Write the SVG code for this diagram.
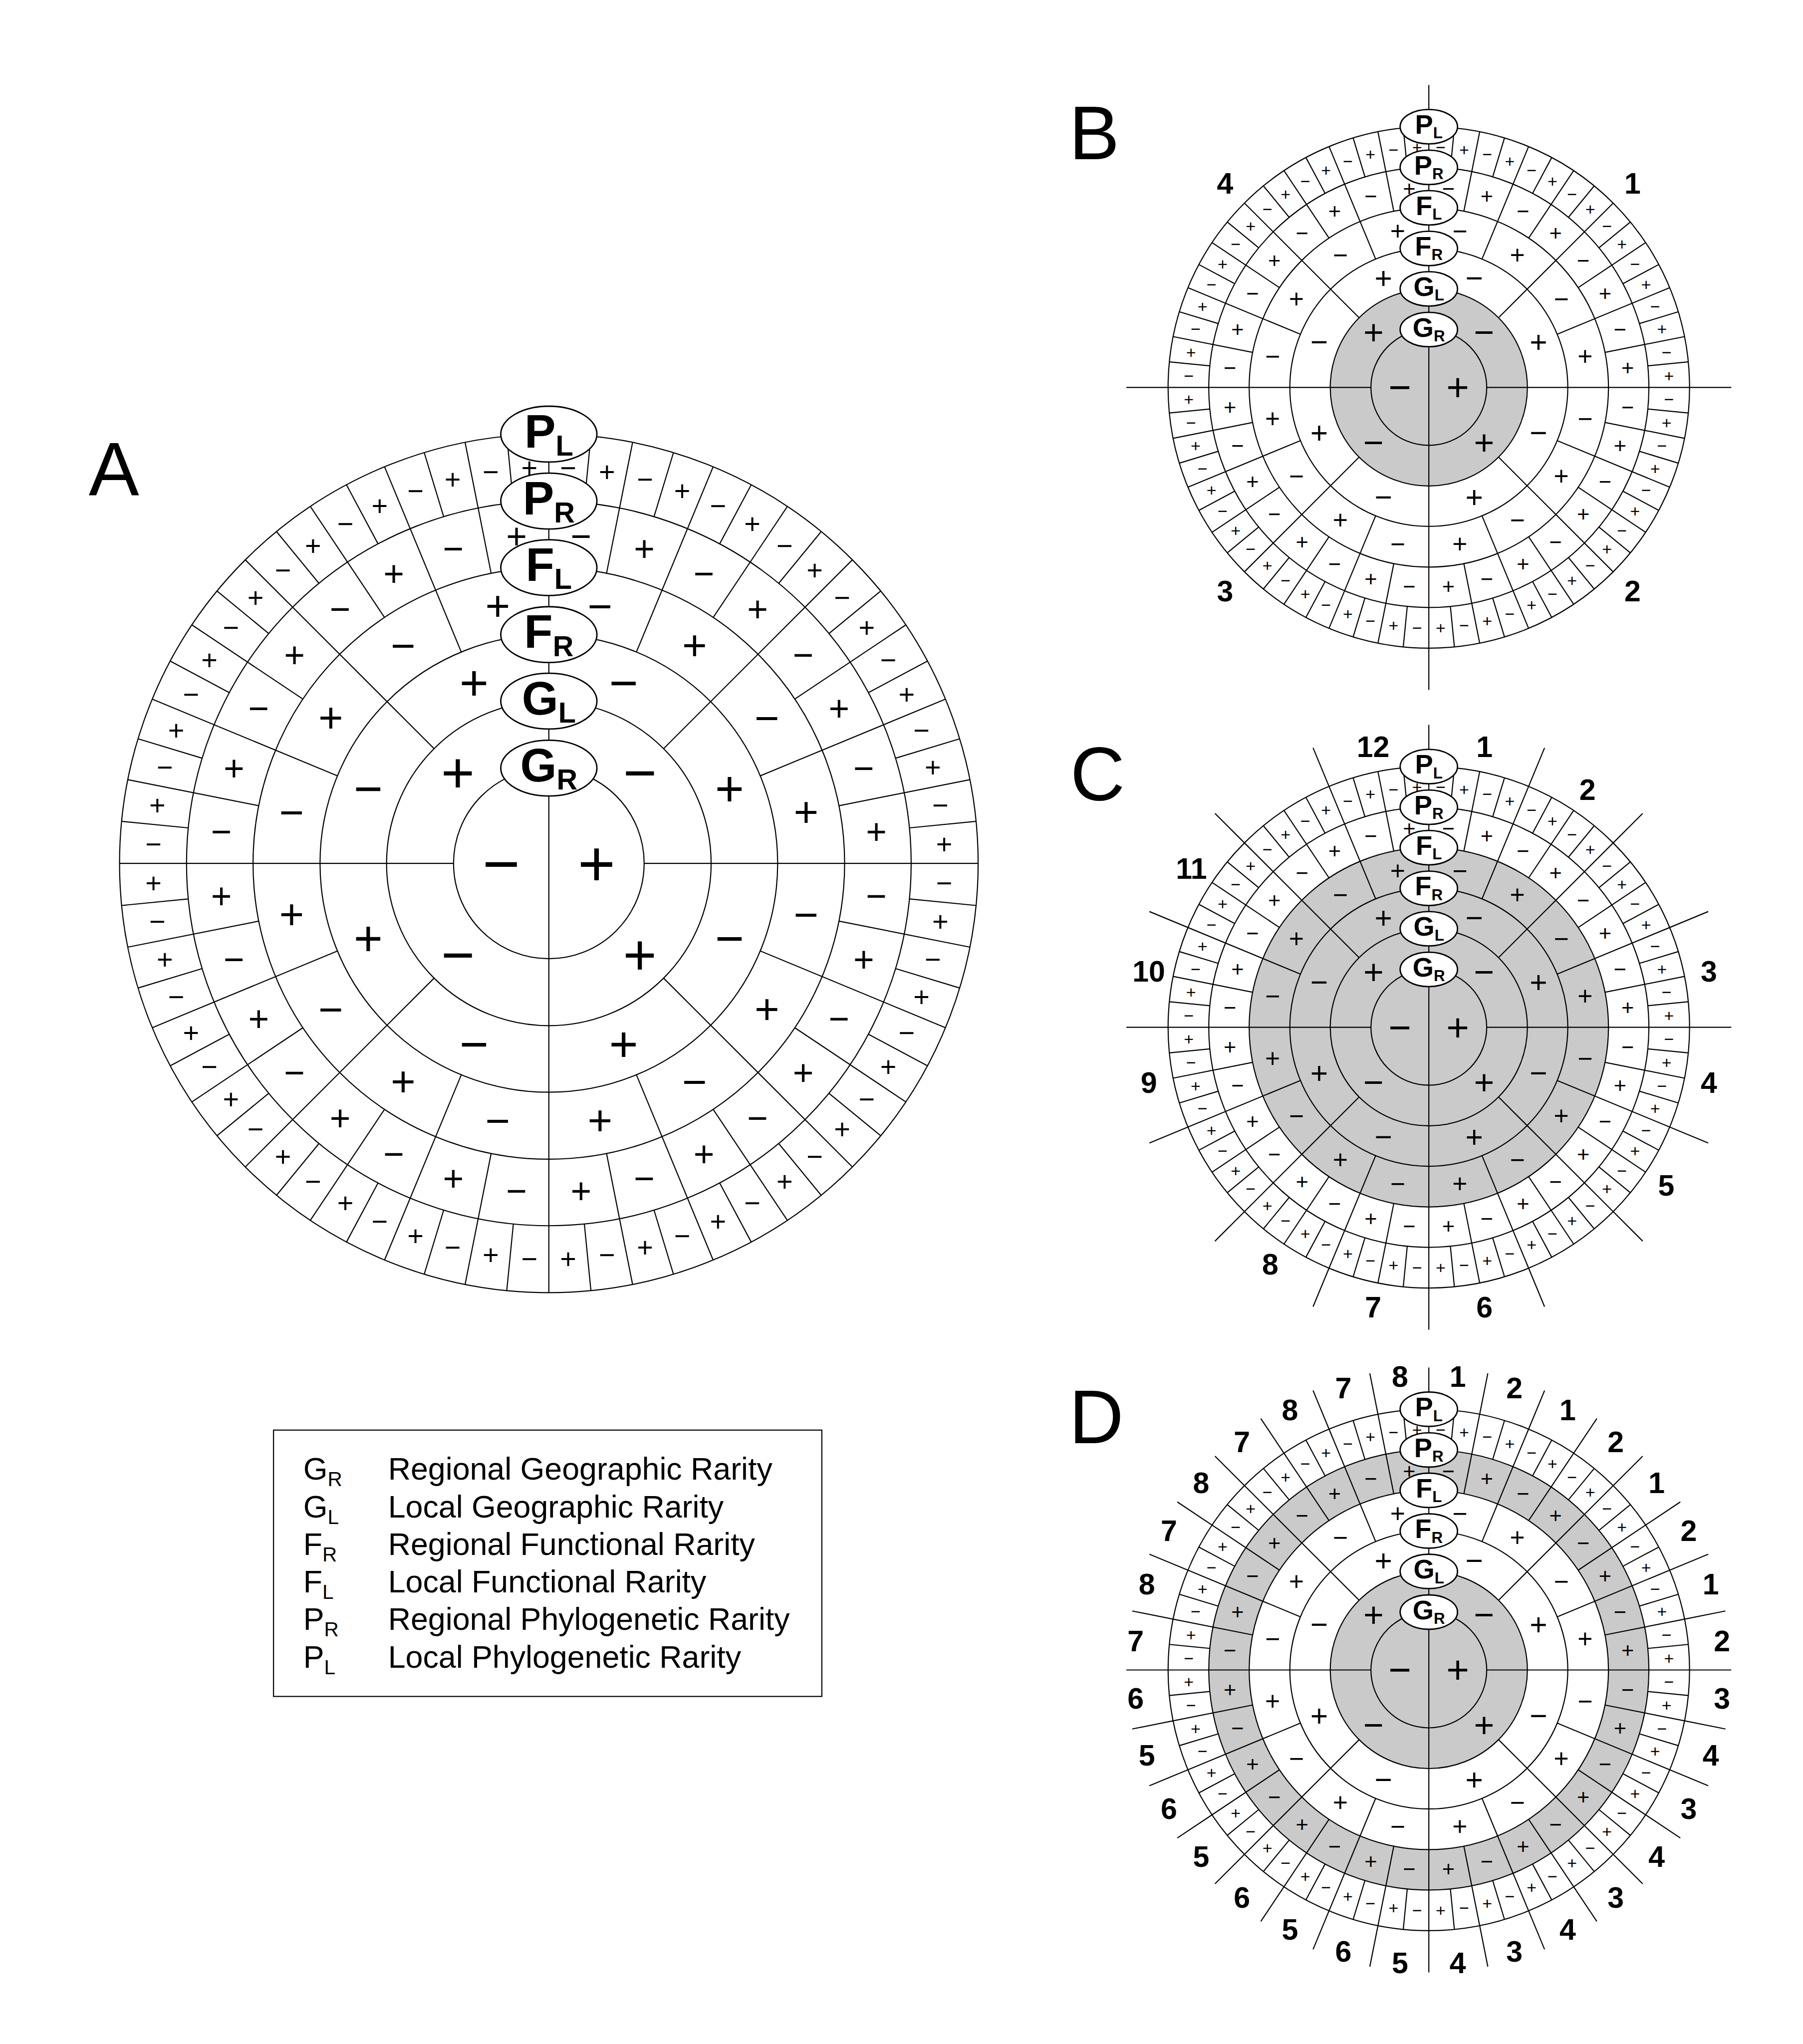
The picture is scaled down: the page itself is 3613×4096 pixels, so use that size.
<svg xmlns="http://www.w3.org/2000/svg" width="3613" height="4096" viewBox="0 0 3613 4096">
<style>
text{font-family:"Liberation Sans",Arial,Helvetica,sans-serif;fill:#000}
.sg text{text-anchor:middle;dominant-baseline:central}
.t1{font-size:150px}.t2{font-size:134px}.t3{font-size:116px}.t4{font-size:99px}.t5{font-size:83px}.t6{font-size:65px}
.nm text{font-weight:bold;font-size:113px;text-anchor:middle;dominant-baseline:central}
.la text{font-weight:bold;font-size:109px;text-anchor:middle}
.la tspan{font-size:67px}
.lb text{font-weight:bold;font-size:104px;text-anchor:middle}
.lb tspan{font-size:60px}
.lg text{font-size:24px}
.lg tspan{font-size:15.5px}
.pl{font-size:58px}
</style>
<defs>
<g id="q">
<line y1="-378" y2="-1000" transform="rotate(45)"/>
<line y1="-533" y2="-1000" transform="rotate(22.5)"/>
<line y1="-533" y2="-1000" transform="rotate(67.5)"/>
<line y1="-689" y2="-1000" transform="rotate(11.25)"/>
<line y1="-689" y2="-1000" transform="rotate(33.75)"/>
<line y1="-689" y2="-1000" transform="rotate(56.25)"/>
<line y1="-689" y2="-1000" transform="rotate(78.75)"/>
<line y1="-844" y2="-1000" transform="rotate(5.625)"/>
<line y1="-844" y2="-1000" transform="rotate(16.875)"/>
<line y1="-844" y2="-1000" transform="rotate(28.125)"/>
<line y1="-844" y2="-1000" transform="rotate(39.375)"/>
<line y1="-844" y2="-1000" transform="rotate(50.625)"/>
<line y1="-844" y2="-1000" transform="rotate(61.875)"/>
<line y1="-844" y2="-1000" transform="rotate(73.125)"/>
<line y1="-844" y2="-1000" transform="rotate(84.375)"/>
</g>
<g id="sp">
<line y1="-1000" y2="1000"/><line x1="222" x2="1000"/><line x1="-222" x2="-1000"/>
<use href="#q"/><use href="#q" transform="rotate(90)"/><use href="#q" transform="rotate(180)"/><use href="#q" transform="rotate(270)"/>
</g>
<g id="rg" fill="none"><circle r="222"/><circle r="378"/><circle r="533"/><circle r="689"/><circle r="844"/><circle r="1000"/></g>
<g id="e4"><line y1="-1000" y2="-1160"/><line y1="1000" y2="1160"/><line x1="1000" x2="1160"/><line x1="-1000" x2="-1160"/></g>
<g id="e16q"><line y1="-1000" y2="-1160" transform="rotate(22.5)"/><line y1="-1000" y2="-1160" transform="rotate(45)"/><line y1="-1000" y2="-1160" transform="rotate(67.5)"/></g>
<g id="e16"><use href="#e16q"/><use href="#e16q" transform="rotate(90)"/><use href="#e16q" transform="rotate(180)"/><use href="#e16q" transform="rotate(270)"/></g>
<g id="e32q"><line y1="-1000" y2="-1160" transform="rotate(11.25)"/><line y1="-1000" y2="-1160" transform="rotate(33.75)"/><line y1="-1000" y2="-1160" transform="rotate(56.25)"/><line y1="-1000" y2="-1160" transform="rotate(78.75)"/></g>
<g id="e32"><use href="#e32q"/><use href="#e32q" transform="rotate(90)"/><use href="#e32q" transform="rotate(180)"/><use href="#e32q" transform="rotate(270)"/></g>
</defs>
<rect width="3613" height="4096" fill="#fff"/>
<g transform="scale(2.6124)">

<text class="pl" x="68" y="380">A</text>
<text class="pl" x="820" y="122">B</text>
<text class="pl" x="821" y="614">C</text>
<text class="pl" x="820" y="1107">D</text>

<g id="A" transform="translate(421,662.3) scale(0.3293)">
<g stroke="#000" stroke-width="2.56"><use href="#sp"/><use href="#rg"/></g>
<g class="sg">
<g class="t1"><text x="111">+</text><text x="-111">−</text></g>
<g class="t2"><text x="212.1" y="-212.1">−</text><text x="212.1" y="212.1">+</text><text x="-212.1" y="212.1">−</text><text x="-212.1" y="-212.1">+</text></g>
<g class="t3"><text x="174.3" y="-420.8">−</text><text x="420.8" y="-174.3">+</text><text x="420.8" y="174.3">−</text><text x="174.3" y="420.8">+</text><text x="-174.3" y="420.8">−</text><text x="-420.8" y="174.3">+</text><text x="-420.8" y="-174.3">−</text><text x="-174.3" y="-420.8">+</text></g>
<g class="t4"><text x="119.2" y="-599.3">−</text><text x="339.5" y="-508">+</text><text x="508" y="-339.5">−</text><text x="599.3" y="-119.2">+</text><text x="599.3" y="119.2">−</text><text x="508" y="339.5">+</text><text x="339.5" y="508">−</text><text x="119.2" y="599.3">+</text><text x="-119.2" y="599.3">−</text><text x="-339.5" y="508">+</text><text x="-508" y="339.5">−</text><text x="-599.3" y="119.2">+</text><text x="-599.3" y="-119.2">−</text><text x="-508" y="-339.5">+</text><text x="-339.5" y="-508">−</text><text x="-119.2" y="-599.3">+</text></g>
<g class="t5"><text x="75.1" y="-762.8">−</text><text x="222.5" y="-733.5">+</text><text x="361.3" y="-676">−</text><text x="486.3" y="-592.5">+</text><text x="592.5" y="-486.3">−</text><text x="676" y="-361.3">+</text><text x="733.5" y="-222.5">−</text><text x="762.8" y="-75.1">+</text><text x="762.8" y="75.1">−</text><text x="733.5" y="222.5">+</text><text x="676" y="361.3">−</text><text x="592.5" y="486.3">+</text><text x="486.3" y="592.5">−</text><text x="361.3" y="676">+</text><text x="222.5" y="733.5">−</text><text x="75.1" y="762.8">+</text><text x="-75.1" y="762.8">−</text><text x="-222.5" y="733.5">+</text><text x="-361.3" y="676">−</text><text x="-486.3" y="592.5">+</text><text x="-592.5" y="486.3">−</text><text x="-676" y="361.3">+</text><text x="-733.5" y="222.5">−</text><text x="-762.8" y="75.1">+</text><text x="-762.8" y="-75.1">−</text><text x="-733.5" y="-222.5">+</text><text x="-676" y="-361.3">−</text><text x="-592.5" y="-486.3">+</text><text x="-486.3" y="-592.5">−</text><text x="-361.3" y="-676">+</text><text x="-222.5" y="-733.5">−</text><text x="-75.1" y="-762.8">+</text></g>
<g class="t6"><text x="45.2" y="-920.9">−</text><text x="135.3" y="-912">+</text><text x="224" y="-894.4">−</text><text x="310.6" y="-868.1">+</text><text x="394.2" y="-833.5">−</text><text x="474" y="-790.8">+</text><text x="549.2" y="-740.6">−</text><text x="619.2" y="-683.2">+</text><text x="683.2" y="-619.2">−</text><text x="740.6" y="-549.2">+</text><text x="790.8" y="-474">−</text><text x="833.5" y="-394.2">+</text><text x="868.1" y="-310.6">−</text><text x="894.4" y="-224">+</text><text x="912" y="-135.3">−</text><text x="920.9" y="-45.2">+</text><text x="920.9" y="45.2">−</text><text x="912" y="135.3">+</text><text x="894.4" y="224">−</text><text x="868.1" y="310.6">+</text><text x="833.5" y="394.2">−</text><text x="790.8" y="474">+</text><text x="740.6" y="549.2">−</text><text x="683.2" y="619.2">+</text><text x="619.2" y="683.2">−</text><text x="549.2" y="740.6">+</text><text x="474" y="790.8">−</text><text x="394.2" y="833.5">+</text><text x="310.6" y="868.1">−</text><text x="224" y="894.4">+</text><text x="135.3" y="912">−</text><text x="45.2" y="920.9">+</text><text x="-45.2" y="920.9">−</text><text x="-135.3" y="912">+</text><text x="-224" y="894.4">−</text><text x="-310.6" y="868.1">+</text><text x="-394.2" y="833.5">−</text><text x="-474" y="790.8">+</text><text x="-549.2" y="740.6">−</text><text x="-619.2" y="683.2">+</text><text x="-683.2" y="619.2">−</text><text x="-740.6" y="549.2">+</text><text x="-790.8" y="474">−</text><text x="-833.5" y="394.2">+</text><text x="-868.1" y="310.6">−</text><text x="-894.4" y="224">+</text><text x="-912" y="135.3">−</text><text x="-920.9" y="45.2">+</text><text x="-920.9" y="-45.2">−</text><text x="-912" y="-135.3">+</text><text x="-894.4" y="-224">−</text><text x="-868.1" y="-310.6">+</text><text x="-833.5" y="-394.2">−</text><text x="-790.8" y="-474">+</text><text x="-740.6" y="-549.2">−</text><text x="-683.2" y="-619.2">+</text><text x="-619.2" y="-683.2">−</text><text x="-549.2" y="-740.6">+</text><text x="-474" y="-790.8">−</text><text x="-394.2" y="-833.5">+</text><text x="-310.6" y="-868.1">−</text><text x="-224" y="-894.4">+</text><text x="-135.3" y="-912">−</text><text x="-45.2" y="-920.9">+</text></g>
</g>
<g class="la">
<g fill="#fff" stroke="#000" stroke-width="3.25"><ellipse cy="-1000" rx="112" ry="65"/><ellipse cy="-844" rx="112" ry="65"/><ellipse cy="-689" rx="112" ry="65"/><ellipse cy="-533" rx="112" ry="65"/><ellipse cy="-378" rx="112" ry="65"/><ellipse cy="-222" rx="112" ry="65"/></g>
<text y="-969">P<tspan dy="19">L</tspan></text>
<text y="-813">P<tspan dy="19">R</tspan></text>
<text y="-658">F<tspan dy="19">L</tspan></text>
<text y="-502">F<tspan dy="19">R</tspan></text>
<text y="-347">G<tspan dy="19">L</tspan></text>
<text y="-191">G<tspan dy="19">R</tspan></text>
</g>
</g>

<g id="B" transform="translate(1096,297.2) scale(0.2)">
<circle r="378" fill="#cacaca"/>
<g stroke="#000" stroke-width="4.21"><use href="#sp"/><use href="#rg"/><use href="#e4"/></g>
<g class="sg">
<g class="t1"><text x="111">+</text><text x="-111">−</text></g>
<g class="t2"><text x="212.1" y="-212.1">−</text><text x="212.1" y="212.1">+</text><text x="-212.1" y="212.1">−</text><text x="-212.1" y="-212.1">+</text></g>
<g class="t3"><text x="174.3" y="-420.8">−</text><text x="420.8" y="-174.3">+</text><text x="420.8" y="174.3">−</text><text x="174.3" y="420.8">+</text><text x="-174.3" y="420.8">−</text><text x="-420.8" y="174.3">+</text><text x="-420.8" y="-174.3">−</text><text x="-174.3" y="-420.8">+</text></g>
<g class="t4"><text x="119.2" y="-599.3">−</text><text x="339.5" y="-508">+</text><text x="508" y="-339.5">−</text><text x="599.3" y="-119.2">+</text><text x="599.3" y="119.2">−</text><text x="508" y="339.5">+</text><text x="339.5" y="508">−</text><text x="119.2" y="599.3">+</text><text x="-119.2" y="599.3">−</text><text x="-339.5" y="508">+</text><text x="-508" y="339.5">−</text><text x="-599.3" y="119.2">+</text><text x="-599.3" y="-119.2">−</text><text x="-508" y="-339.5">+</text><text x="-339.5" y="-508">−</text><text x="-119.2" y="-599.3">+</text></g>
<g class="t5"><text x="75.1" y="-762.8">−</text><text x="222.5" y="-733.5">+</text><text x="361.3" y="-676">−</text><text x="486.3" y="-592.5">+</text><text x="592.5" y="-486.3">−</text><text x="676" y="-361.3">+</text><text x="733.5" y="-222.5">−</text><text x="762.8" y="-75.1">+</text><text x="762.8" y="75.1">−</text><text x="733.5" y="222.5">+</text><text x="676" y="361.3">−</text><text x="592.5" y="486.3">+</text><text x="486.3" y="592.5">−</text><text x="361.3" y="676">+</text><text x="222.5" y="733.5">−</text><text x="75.1" y="762.8">+</text><text x="-75.1" y="762.8">−</text><text x="-222.5" y="733.5">+</text><text x="-361.3" y="676">−</text><text x="-486.3" y="592.5">+</text><text x="-592.5" y="486.3">−</text><text x="-676" y="361.3">+</text><text x="-733.5" y="222.5">−</text><text x="-762.8" y="75.1">+</text><text x="-762.8" y="-75.1">−</text><text x="-733.5" y="-222.5">+</text><text x="-676" y="-361.3">−</text><text x="-592.5" y="-486.3">+</text><text x="-486.3" y="-592.5">−</text><text x="-361.3" y="-676">+</text><text x="-222.5" y="-733.5">−</text><text x="-75.1" y="-762.8">+</text></g>
<g class="t6"><text x="45.2" y="-920.9">−</text><text x="135.3" y="-912">+</text><text x="224" y="-894.4">−</text><text x="310.6" y="-868.1">+</text><text x="394.2" y="-833.5">−</text><text x="474" y="-790.8">+</text><text x="549.2" y="-740.6">−</text><text x="619.2" y="-683.2">+</text><text x="683.2" y="-619.2">−</text><text x="740.6" y="-549.2">+</text><text x="790.8" y="-474">−</text><text x="833.5" y="-394.2">+</text><text x="868.1" y="-310.6">−</text><text x="894.4" y="-224">+</text><text x="912" y="-135.3">−</text><text x="920.9" y="-45.2">+</text><text x="920.9" y="45.2">−</text><text x="912" y="135.3">+</text><text x="894.4" y="224">−</text><text x="868.1" y="310.6">+</text><text x="833.5" y="394.2">−</text><text x="790.8" y="474">+</text><text x="740.6" y="549.2">−</text><text x="683.2" y="619.2">+</text><text x="619.2" y="683.2">−</text><text x="549.2" y="740.6">+</text><text x="474" y="790.8">−</text><text x="394.2" y="833.5">+</text><text x="310.6" y="868.1">−</text><text x="224" y="894.4">+</text><text x="135.3" y="912">−</text><text x="45.2" y="920.9">+</text><text x="-45.2" y="920.9">−</text><text x="-135.3" y="912">+</text><text x="-224" y="894.4">−</text><text x="-310.6" y="868.1">+</text><text x="-394.2" y="833.5">−</text><text x="-474" y="790.8">+</text><text x="-549.2" y="740.6">−</text><text x="-619.2" y="683.2">+</text><text x="-683.2" y="619.2">−</text><text x="-740.6" y="549.2">+</text><text x="-790.8" y="474">−</text><text x="-833.5" y="394.2">+</text><text x="-868.1" y="310.6">−</text><text x="-894.4" y="224">+</text><text x="-912" y="135.3">−</text><text x="-920.9" y="45.2">+</text><text x="-920.9" y="-45.2">−</text><text x="-912" y="-135.3">+</text><text x="-894.4" y="-224">−</text><text x="-868.1" y="-310.6">+</text><text x="-833.5" y="-394.2">−</text><text x="-790.8" y="-474">+</text><text x="-740.6" y="-549.2">−</text><text x="-683.2" y="-619.2">+</text><text x="-619.2" y="-683.2">−</text><text x="-549.2" y="-740.6">+</text><text x="-474" y="-790.8">−</text><text x="-394.2" y="-833.5">+</text><text x="-310.6" y="-868.1">−</text><text x="-224" y="-894.4">+</text><text x="-135.3" y="-912">−</text><text x="-45.2" y="-920.9">+</text></g>
</g>
<g class="lb">
<g fill="#fff" stroke="#000" stroke-width="5.36"><ellipse cy="-1000" rx="110" ry="66"/><ellipse cy="-844" rx="110" ry="66"/><ellipse cy="-689" rx="110" ry="66"/><ellipse cy="-533" rx="110" ry="66"/><ellipse cy="-378" rx="110" ry="66"/><ellipse cy="-222" rx="110" ry="66"/></g>
<text y="-973">P<tspan dy="18">L</tspan></text>
<text y="-817">P<tspan dy="18">R</tspan></text>
<text y="-662">F<tspan dy="18">L</tspan></text>
<text y="-506">F<tspan dy="18">R</tspan></text>
<text y="-351">G<tspan dy="18">L</tspan></text>
<text y="-195">G<tspan dy="18">R</tspan></text>
</g>
<g class="nm"><text x="781.4" y="-781.4">1</text><text x="781.4" y="781.4">2</text><text x="-781.4" y="781.4">3</text><text x="-781.4" y="-781.4">4</text></g>
</g>

<g id="C" transform="translate(1096,788) scale(0.2)">
<circle r="689" fill="#cacaca"/>
<g stroke="#000" stroke-width="4.21"><use href="#sp"/><use href="#rg"/><use href="#e4"/><use href="#e16"/></g>
<g class="sg">
<g class="t1"><text x="111">+</text><text x="-111">−</text></g>
<g class="t2"><text x="212.1" y="-212.1">−</text><text x="212.1" y="212.1">+</text><text x="-212.1" y="212.1">−</text><text x="-212.1" y="-212.1">+</text></g>
<g class="t3"><text x="174.3" y="-420.8">−</text><text x="420.8" y="-174.3">+</text><text x="420.8" y="174.3">−</text><text x="174.3" y="420.8">+</text><text x="-174.3" y="420.8">−</text><text x="-420.8" y="174.3">+</text><text x="-420.8" y="-174.3">−</text><text x="-174.3" y="-420.8">+</text></g>
<g class="t4"><text x="119.2" y="-599.3">−</text><text x="339.5" y="-508">+</text><text x="508" y="-339.5">−</text><text x="599.3" y="-119.2">+</text><text x="599.3" y="119.2">−</text><text x="508" y="339.5">+</text><text x="339.5" y="508">−</text><text x="119.2" y="599.3">+</text><text x="-119.2" y="599.3">−</text><text x="-339.5" y="508">+</text><text x="-508" y="339.5">−</text><text x="-599.3" y="119.2">+</text><text x="-599.3" y="-119.2">−</text><text x="-508" y="-339.5">+</text><text x="-339.5" y="-508">−</text><text x="-119.2" y="-599.3">+</text></g>
<g class="t5"><text x="75.1" y="-762.8">−</text><text x="222.5" y="-733.5">+</text><text x="361.3" y="-676">−</text><text x="486.3" y="-592.5">+</text><text x="592.5" y="-486.3">−</text><text x="676" y="-361.3">+</text><text x="733.5" y="-222.5">−</text><text x="762.8" y="-75.1">+</text><text x="762.8" y="75.1">−</text><text x="733.5" y="222.5">+</text><text x="676" y="361.3">−</text><text x="592.5" y="486.3">+</text><text x="486.3" y="592.5">−</text><text x="361.3" y="676">+</text><text x="222.5" y="733.5">−</text><text x="75.1" y="762.8">+</text><text x="-75.1" y="762.8">−</text><text x="-222.5" y="733.5">+</text><text x="-361.3" y="676">−</text><text x="-486.3" y="592.5">+</text><text x="-592.5" y="486.3">−</text><text x="-676" y="361.3">+</text><text x="-733.5" y="222.5">−</text><text x="-762.8" y="75.1">+</text><text x="-762.8" y="-75.1">−</text><text x="-733.5" y="-222.5">+</text><text x="-676" y="-361.3">−</text><text x="-592.5" y="-486.3">+</text><text x="-486.3" y="-592.5">−</text><text x="-361.3" y="-676">+</text><text x="-222.5" y="-733.5">−</text><text x="-75.1" y="-762.8">+</text></g>
<g class="t6"><text x="45.2" y="-920.9">−</text><text x="135.3" y="-912">+</text><text x="224" y="-894.4">−</text><text x="310.6" y="-868.1">+</text><text x="394.2" y="-833.5">−</text><text x="474" y="-790.8">+</text><text x="549.2" y="-740.6">−</text><text x="619.2" y="-683.2">+</text><text x="683.2" y="-619.2">−</text><text x="740.6" y="-549.2">+</text><text x="790.8" y="-474">−</text><text x="833.5" y="-394.2">+</text><text x="868.1" y="-310.6">−</text><text x="894.4" y="-224">+</text><text x="912" y="-135.3">−</text><text x="920.9" y="-45.2">+</text><text x="920.9" y="45.2">−</text><text x="912" y="135.3">+</text><text x="894.4" y="224">−</text><text x="868.1" y="310.6">+</text><text x="833.5" y="394.2">−</text><text x="790.8" y="474">+</text><text x="740.6" y="549.2">−</text><text x="683.2" y="619.2">+</text><text x="619.2" y="683.2">−</text><text x="549.2" y="740.6">+</text><text x="474" y="790.8">−</text><text x="394.2" y="833.5">+</text><text x="310.6" y="868.1">−</text><text x="224" y="894.4">+</text><text x="135.3" y="912">−</text><text x="45.2" y="920.9">+</text><text x="-45.2" y="920.9">−</text><text x="-135.3" y="912">+</text><text x="-224" y="894.4">−</text><text x="-310.6" y="868.1">+</text><text x="-394.2" y="833.5">−</text><text x="-474" y="790.8">+</text><text x="-549.2" y="740.6">−</text><text x="-619.2" y="683.2">+</text><text x="-683.2" y="619.2">−</text><text x="-740.6" y="549.2">+</text><text x="-790.8" y="474">−</text><text x="-833.5" y="394.2">+</text><text x="-868.1" y="310.6">−</text><text x="-894.4" y="224">+</text><text x="-912" y="135.3">−</text><text x="-920.9" y="45.2">+</text><text x="-920.9" y="-45.2">−</text><text x="-912" y="-135.3">+</text><text x="-894.4" y="-224">−</text><text x="-868.1" y="-310.6">+</text><text x="-833.5" y="-394.2">−</text><text x="-790.8" y="-474">+</text><text x="-740.6" y="-549.2">−</text><text x="-683.2" y="-619.2">+</text><text x="-619.2" y="-683.2">−</text><text x="-549.2" y="-740.6">+</text><text x="-474" y="-790.8">−</text><text x="-394.2" y="-833.5">+</text><text x="-310.6" y="-868.1">−</text><text x="-224" y="-894.4">+</text><text x="-135.3" y="-912">−</text><text x="-45.2" y="-920.9">+</text></g>
</g>
<g class="lb">
<g fill="#fff" stroke="#000" stroke-width="5.36"><ellipse cy="-1000" rx="110" ry="66"/><ellipse cy="-844" rx="110" ry="66"/><ellipse cy="-689" rx="110" ry="66"/><ellipse cy="-533" rx="110" ry="66"/><ellipse cy="-378" rx="110" ry="66"/><ellipse cy="-222" rx="110" ry="66"/></g>
<text y="-973">P<tspan dy="18">L</tspan></text>
<text y="-817">P<tspan dy="18">R</tspan></text>
<text y="-662">F<tspan dy="18">L</tspan></text>
<text y="-506">F<tspan dy="18">R</tspan></text>
<text y="-351">G<tspan dy="18">L</tspan></text>
<text y="-195">G<tspan dy="18">R</tspan></text>
</g>
<g class="nm"><text x="213.6" y="-1074">1</text><text x="608.4" y="-910.5">2</text><text x="1074" y="-213.6">3</text><text x="1074" y="213.6">4</text><text x="910.5" y="608.4">5</text><text x="213.6" y="1074">6</text><text x="-213.6" y="1074">7</text><text x="-608.4" y="910.5">8</text><text x="-1074" y="213.6">9</text><text x="-1074" y="-213.6">10</text><text x="-910.5" y="-608.4">11</text><text x="-213.6" y="-1074">12</text></g>
</g>

<g id="D" transform="translate(1096,1281) scale(0.2)">
<circle r="844" fill="#cacaca"/><circle r="689" fill="#fff"/><circle r="378" fill="#cacaca"/>
<g stroke="#000" stroke-width="4.21"><use href="#sp"/><use href="#rg"/><use href="#e4"/><use href="#e16"/><use href="#e32"/></g>
<g class="sg">
<g class="t1"><text x="111">+</text><text x="-111">−</text></g>
<g class="t2"><text x="212.1" y="-212.1">−</text><text x="212.1" y="212.1">+</text><text x="-212.1" y="212.1">−</text><text x="-212.1" y="-212.1">+</text></g>
<g class="t3"><text x="174.3" y="-420.8">−</text><text x="420.8" y="-174.3">+</text><text x="420.8" y="174.3">−</text><text x="174.3" y="420.8">+</text><text x="-174.3" y="420.8">−</text><text x="-420.8" y="174.3">+</text><text x="-420.8" y="-174.3">−</text><text x="-174.3" y="-420.8">+</text></g>
<g class="t4"><text x="119.2" y="-599.3">−</text><text x="339.5" y="-508">+</text><text x="508" y="-339.5">−</text><text x="599.3" y="-119.2">+</text><text x="599.3" y="119.2">−</text><text x="508" y="339.5">+</text><text x="339.5" y="508">−</text><text x="119.2" y="599.3">+</text><text x="-119.2" y="599.3">−</text><text x="-339.5" y="508">+</text><text x="-508" y="339.5">−</text><text x="-599.3" y="119.2">+</text><text x="-599.3" y="-119.2">−</text><text x="-508" y="-339.5">+</text><text x="-339.5" y="-508">−</text><text x="-119.2" y="-599.3">+</text></g>
<g class="t5"><text x="75.1" y="-762.8">−</text><text x="222.5" y="-733.5">+</text><text x="361.3" y="-676">−</text><text x="486.3" y="-592.5">+</text><text x="592.5" y="-486.3">−</text><text x="676" y="-361.3">+</text><text x="733.5" y="-222.5">−</text><text x="762.8" y="-75.1">+</text><text x="762.8" y="75.1">−</text><text x="733.5" y="222.5">+</text><text x="676" y="361.3">−</text><text x="592.5" y="486.3">+</text><text x="486.3" y="592.5">−</text><text x="361.3" y="676">+</text><text x="222.5" y="733.5">−</text><text x="75.1" y="762.8">+</text><text x="-75.1" y="762.8">−</text><text x="-222.5" y="733.5">+</text><text x="-361.3" y="676">−</text><text x="-486.3" y="592.5">+</text><text x="-592.5" y="486.3">−</text><text x="-676" y="361.3">+</text><text x="-733.5" y="222.5">−</text><text x="-762.8" y="75.1">+</text><text x="-762.8" y="-75.1">−</text><text x="-733.5" y="-222.5">+</text><text x="-676" y="-361.3">−</text><text x="-592.5" y="-486.3">+</text><text x="-486.3" y="-592.5">−</text><text x="-361.3" y="-676">+</text><text x="-222.5" y="-733.5">−</text><text x="-75.1" y="-762.8">+</text></g>
<g class="t6"><text x="45.2" y="-920.9">−</text><text x="135.3" y="-912">+</text><text x="224" y="-894.4">−</text><text x="310.6" y="-868.1">+</text><text x="394.2" y="-833.5">−</text><text x="474" y="-790.8">+</text><text x="549.2" y="-740.6">−</text><text x="619.2" y="-683.2">+</text><text x="683.2" y="-619.2">−</text><text x="740.6" y="-549.2">+</text><text x="790.8" y="-474">−</text><text x="833.5" y="-394.2">+</text><text x="868.1" y="-310.6">−</text><text x="894.4" y="-224">+</text><text x="912" y="-135.3">−</text><text x="920.9" y="-45.2">+</text><text x="920.9" y="45.2">−</text><text x="912" y="135.3">+</text><text x="894.4" y="224">−</text><text x="868.1" y="310.6">+</text><text x="833.5" y="394.2">−</text><text x="790.8" y="474">+</text><text x="740.6" y="549.2">−</text><text x="683.2" y="619.2">+</text><text x="619.2" y="683.2">−</text><text x="549.2" y="740.6">+</text><text x="474" y="790.8">−</text><text x="394.2" y="833.5">+</text><text x="310.6" y="868.1">−</text><text x="224" y="894.4">+</text><text x="135.3" y="912">−</text><text x="45.2" y="920.9">+</text><text x="-45.2" y="920.9">−</text><text x="-135.3" y="912">+</text><text x="-224" y="894.4">−</text><text x="-310.6" y="868.1">+</text><text x="-394.2" y="833.5">−</text><text x="-474" y="790.8">+</text><text x="-549.2" y="740.6">−</text><text x="-619.2" y="683.2">+</text><text x="-683.2" y="619.2">−</text><text x="-740.6" y="549.2">+</text><text x="-790.8" y="474">−</text><text x="-833.5" y="394.2">+</text><text x="-868.1" y="310.6">−</text><text x="-894.4" y="224">+</text><text x="-912" y="135.3">−</text><text x="-920.9" y="45.2">+</text><text x="-920.9" y="-45.2">−</text><text x="-912" y="-135.3">+</text><text x="-894.4" y="-224">−</text><text x="-868.1" y="-310.6">+</text><text x="-833.5" y="-394.2">−</text><text x="-790.8" y="-474">+</text><text x="-740.6" y="-549.2">−</text><text x="-683.2" y="-619.2">+</text><text x="-619.2" y="-683.2">−</text><text x="-549.2" y="-740.6">+</text><text x="-474" y="-790.8">−</text><text x="-394.2" y="-833.5">+</text><text x="-310.6" y="-868.1">−</text><text x="-224" y="-894.4">+</text><text x="-135.3" y="-912">−</text><text x="-45.2" y="-920.9">+</text></g>
</g>
<g class="lb">
<g fill="#fff" stroke="#000" stroke-width="5.36"><ellipse cy="-1000" rx="110" ry="66"/><ellipse cy="-844" rx="110" ry="66"/><ellipse cy="-689" rx="110" ry="66"/><ellipse cy="-533" rx="110" ry="66"/><ellipse cy="-378" rx="110" ry="66"/><ellipse cy="-222" rx="110" ry="66"/></g>
<text y="-973">P<tspan dy="18">L</tspan></text>
<text y="-817">P<tspan dy="18">R</tspan></text>
<text y="-662">F<tspan dy="18">L</tspan></text>
<text y="-506">F<tspan dy="18">R</tspan></text>
<text y="-351">G<tspan dy="18">L</tspan></text>
<text y="-195">G<tspan dy="18">R</tspan></text>
</g>
<g class="nm">
<text x="110.8" y="-1124.6">1</text><text x="328" y="-1081.3">2</text><text x="532.7" y="-996.6">1</text><text x="716.9" y="-873.5">2</text><text x="873.5" y="-716.9">1</text><text x="996.6" y="-532.7">2</text><text x="1081.3" y="-328">1</text><text x="1124.6" y="-110.8">2</text>
<text x="1124.6" y="110.8">3</text><text x="1081.3" y="328">4</text><text x="996.6" y="532.7">3</text><text x="873.5" y="716.9">4</text><text x="716.9" y="873.5">3</text><text x="532.7" y="996.6">4</text><text x="328" y="1081.3">3</text><text x="110.8" y="1124.6">4</text>
<text x="-110.8" y="1124.6">5</text><text x="-328" y="1081.3">6</text><text x="-532.7" y="996.6">5</text><text x="-716.9" y="873.5">6</text><text x="-873.5" y="716.9">5</text><text x="-996.6" y="532.7">6</text><text x="-1081.3" y="328">5</text><text x="-1124.6" y="110.8">6</text>
<text x="-1124.6" y="-110.8">7</text><text x="-1081.3" y="-328">8</text><text x="-996.6" y="-532.7">7</text><text x="-873.5" y="-716.9">8</text><text x="-716.9" y="-873.5">7</text><text x="-532.7" y="-996.6">8</text><text x="-328" y="-1081.3">7</text><text x="-110.8" y="-1124.6">8</text>
</g>
</g>

<g id="legend" class="lg">
<rect x="209.8" y="1097" width="420.6" height="204.3" fill="none" stroke="#000" stroke-width="0.84"/>
<text x="232.6" y="1135.1">G<tspan dy="5">R</tspan></text><text x="297.7" y="1135.1">Regional Geographic Rarity</text>
<text x="232.6" y="1163.9">G<tspan dy="5">L</tspan></text><text x="297.7" y="1163.9">Local Geographic Rarity</text>
<text x="232.6" y="1192.7">F<tspan dy="5">R</tspan></text><text x="297.7" y="1192.7">Regional Functional Rarity</text>
<text x="232.6" y="1221.5">F<tspan dy="5">L</tspan></text><text x="297.7" y="1221.5">Local Functional Rarity</text>
<text x="232.6" y="1250.3">P<tspan dy="5">R</tspan></text><text x="297.7" y="1250.3">Regional Phylogenetic Rarity</text>
<text x="232.6" y="1279.1">P<tspan dy="5">L</tspan></text><text x="297.7" y="1279.1">Local Phylogenetic Rarity</text>
</g>
</g>
</svg>
